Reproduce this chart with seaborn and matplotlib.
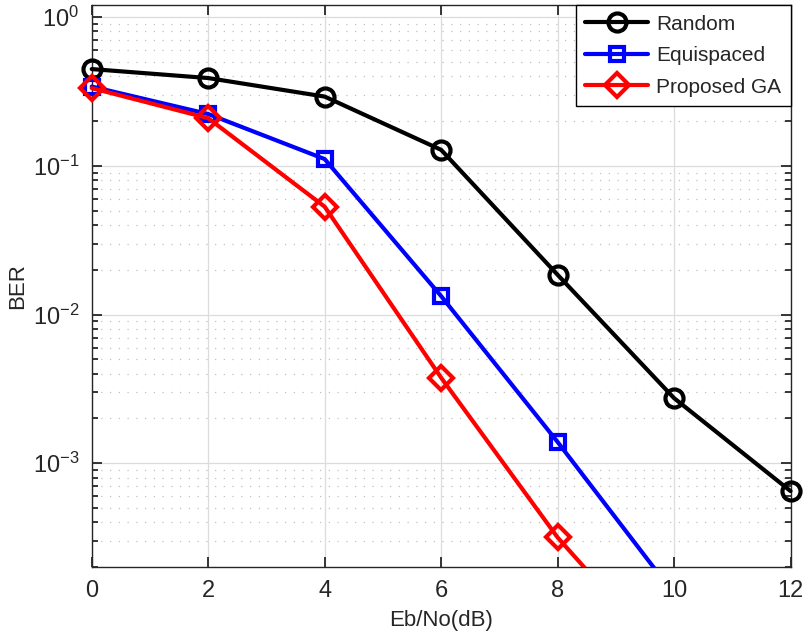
import matplotlib
matplotlib.use("Agg")
import matplotlib.pyplot as plt
import pandas as pd
import seaborn as sns
from matplotlib.ticker import LogLocator, NullFormatter
from matplotlib.transforms import Bbox, TransformedBbox

# values
snr_random = [0, 2, 4, 6, 8, 10, 12]
ber_random = [0.447, 0.389, 0.292, 0.128, 0.0185, 0.00274, 0.00065]

snr_equi = [0, 2, 4, 6, 8, 10]
ber_equi = [0.341, 0.223, 0.111, 0.0133, 0.00139, 0.000132]

snr_ga = [0, 2, 4, 6, 8, 10]
ber_ga = [0.333, 0.209, 0.0531, 0.00376, 0.000317, 0.000042]

series_names = ["Random", "Equispaced", "Proposed GA"]
series_colors = ["black", "blue", "red"]
series_markers = ["o", "s", "D"]
series_sizes = [13, 10, 12]

sns.set_style("ticks")
plt.rcParams["font.family"] = ["Liberation Sans", "DejaVu Sans"]
plt.rcParams["mathtext.default"] = "regular"

fig = plt.figure(figsize=(8.06, 6.38), dpi=100)
ax = fig.add_axes([0.1138, 0.111, 0.867, 0.8807])

frames = [
    pd.DataFrame({"snr": snr_random, "ber": ber_random}),
    pd.DataFrame({"snr": snr_equi, "ber": ber_equi}),
    pd.DataFrame({"snr": snr_ga, "ber": ber_ga}),
]

for df, name, col, mk, ms in zip(frames, series_names, series_colors,
                                 series_markers, series_sizes):
    sns.lineplot(data=df, x="snr", y="ber", ax=ax, color=col, marker=mk,
                 markersize=ms, markerfacecolor="none", markeredgecolor=col,
                 markeredgewidth=3, linewidth=3, label=name, zorder=3)

# let markers at the left/right/top edges show fully, clip only at the bottom
clip = TransformedBbox(Bbox([[-0.06, 0.0], [1.06, 1.06]]), ax.transAxes)
for line in ax.lines:
    line.set_clip_box(clip)

ax.set_yscale("log")
ax.set_xlim(0, 12)
ax.set_ylim(2e-4, 1.2)
ax.set_xticks([0, 2, 4, 6, 8, 10, 12])
ax.yaxis.set_major_locator(LogLocator(base=10, numticks=10))
ax.yaxis.set_minor_locator(LogLocator(base=10, subs=range(2, 10), numticks=20))
ax.yaxis.set_minor_formatter(NullFormatter())

ax.grid(which="major", color="#dcdcdc", linewidth=0.9, linestyle="-")
ax.grid(which="minor", axis="y", color="#c0c0c0", linewidth=0.9, linestyle=(0, (1, 6)))
ax.set_axisbelow(True)

ax.tick_params(which="both", direction="in", top=True, right=True,
               colors="#262626", labelsize=17)
ax.tick_params(which="major", length=7, width=1.3, pad=9)
ax.tick_params(which="minor", length=4, width=1.3)
for sp in ax.spines.values():
    sp.set_color("#262626")
    sp.set_linewidth(1.0)

ax.set_xlabel("Eb/No(dB)", fontsize=16, color="#262626", labelpad=6)
ax.set_ylabel("BER", fontsize=16, color="#262626")
ax.yaxis.set_label_coords(-0.091, 0.5)

leg = ax.legend(loc="upper right", fontsize=15, fancybox=False, framealpha=1,
                edgecolor="black", borderaxespad=0, handlelength=3.0,
                handletextpad=0.4, labelspacing=0.6, borderpad=0.45)
leg.get_frame().set_linewidth(1.0)

fig.savefig("out.png", dpi=100)
